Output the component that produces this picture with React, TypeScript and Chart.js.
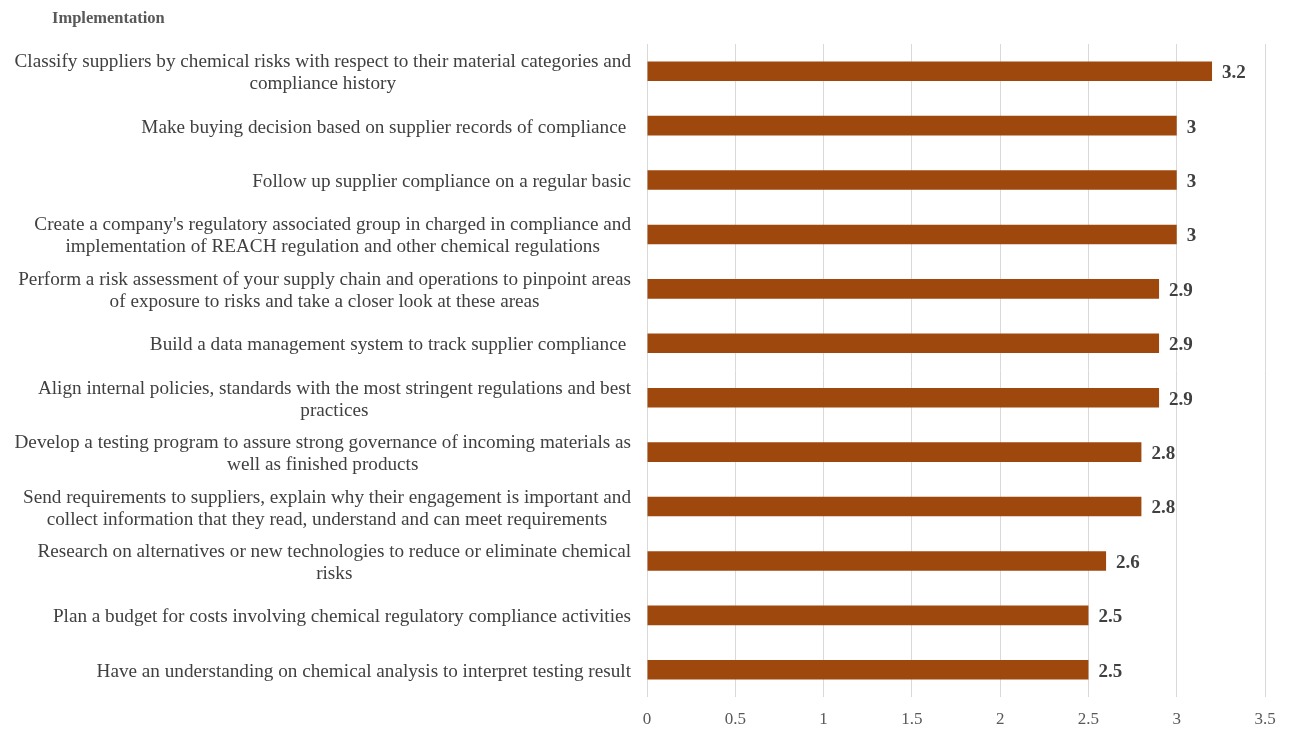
import React, { useEffect, useRef } from "react";
import { Chart, registerables } from "chart.js";

Chart.register(...registerables);

const chartTitle = "Implementation";

const categories: string[][] = [
  ["Classify suppliers by chemical risks with respect to their material categories and", "compliance history"],
  ["Make buying decision based on supplier records of compliance "],
  ["Follow up supplier compliance on a regular basic"],
  ["Create a company's regulatory associated group in charged in compliance and", "implementation of REACH regulation and other chemical regulations"],
  ["Perform a risk assessment of your supply chain and operations to pinpoint areas", "of exposure to risks and take a closer look at these areas"],
  ["Build a data management system to track supplier compliance "],
  ["Align internal policies, standards with the most stringent regulations and best", "practices"],
  ["Develop a testing program to assure strong governance of incoming materials as", "well as finished products"],
  ["Send requirements to suppliers, explain why their engagement is important and", "collect information that they read, understand and can meet requirements"],
  ["Research on alternatives or new technologies to reduce or eliminate chemical", "risks"],
  ["Plan a budget for costs involving chemical regulatory compliance activities"],
  ["Have an understanding on chemical analysis to interpret testing result"],
];

const scores: number[] = [3.2, 3, 3, 3, 2.9, 2.9, 2.9, 2.8, 2.8, 2.6, 2.5, 2.5];

const xTickValues: number[] = [0, 0.5, 1, 1.5, 2, 2.5, 3, 3.5];

const FONT = "'Liberation Serif', 'Times New Roman', serif";

const labelPlugin = {
  id: "customLabels",
  afterDraw(chart: any) {
    const ctx = chart.ctx;
    const yScale = chart.scales.y;
    const area = chart.chartArea;
    ctx.save();
    // title
    ctx.font = `bold 16.5px ${FONT}`;
    ctx.fillStyle = "#595959";
    ctx.textAlign = "left";
    ctx.textBaseline = "middle";
    ctx.fillText(chartTitle, 52, 19);

    // category labels: block right-aligned, lines centered in block
    ctx.font = `19.2px ${FONT}`;
    ctx.fillStyle = "#404040";
    ctx.textAlign = "center";
    const rightEdge = area.left - 16;
    const lineH = 22;
    categories.forEach((lines, i) => {
      const yc = yScale.getPixelForValue(i) + 2;
      const w = Math.max(...lines.map((l) => ctx.measureText(l).width));
      const cx = rightEdge - w / 2;
      const y0 = yc - ((lines.length - 1) * lineH) / 2;
      lines.forEach((l, j) => ctx.fillText(l, cx, y0 + j * lineH));
    });

    // value labels
    ctx.font = `bold 19px ${FONT}`;
    ctx.fillStyle = "#404040";
    ctx.textAlign = "left";
    const meta = chart.getDatasetMeta(0);
    meta.data.forEach((bar: any, i: number) => {
      ctx.fillText(String(scores[i]), bar.x + 10, bar.y + 2);
    });
    ctx.restore();
  },
};

export default function App() {
  const canvasRef = useRef<HTMLCanvasElement | null>(null);

  useEffect(() => {
    if (!canvasRef.current) return;
    const chart = new Chart(canvasRef.current, {
      type: "bar",
      data: {
        labels: categories.map((c) => c.join(" ")),
        datasets: [
          {
            data: scores,
            backgroundColor: "#9E480E",
            borderWidth: 0,
            categoryPercentage: 1,
            barPercentage: 0.36,
          },
        ],
      },
      options: {
        indexAxis: "y",
        animation: false,
        responsive: false,
        maintainAspectRatio: false,
        layout: { padding: { left: 647, right: 24, top: 44, bottom: 0 } },
        plugins: {
          legend: { display: false },
          tooltip: { enabled: false },
          title: { display: false },
        },
        scales: {
          x: {
            min: 0,
            max: 3.5,
            afterBuildTicks: (scale: any) => {
              scale.ticks = xTickValues.map((v) => ({ value: v }));
            },
            afterFit: (scale: any) => {
              scale.height = 35;
            },
            grid: { color: "#d9d9d9", drawTicks: false, lineWidth: 1 },
            border: { display: false },
            ticks: {
              color: "#595959",
              font: { family: FONT, size: 17 },
              padding: 12,
              callback: (v: any) => String(v),
            },
          },
          y: {
            grid: { display: false },
            border: { display: false },
            ticks: { display: false },
            afterFit: (scale: any) => {
              scale.width = 0;
            },
          },
        },
      },
      plugins: [labelPlugin],
    });
    return () => chart.destroy();
  }, []);

  return (
    <div style={{ position: "fixed", left: 0, top: 0, width: 1289, height: 732, background: "#fff" }}>
      <canvas ref={canvasRef} width={1289} height={732} style={{ width: 1289, height: 732 }} />
    </div>
  );
}
